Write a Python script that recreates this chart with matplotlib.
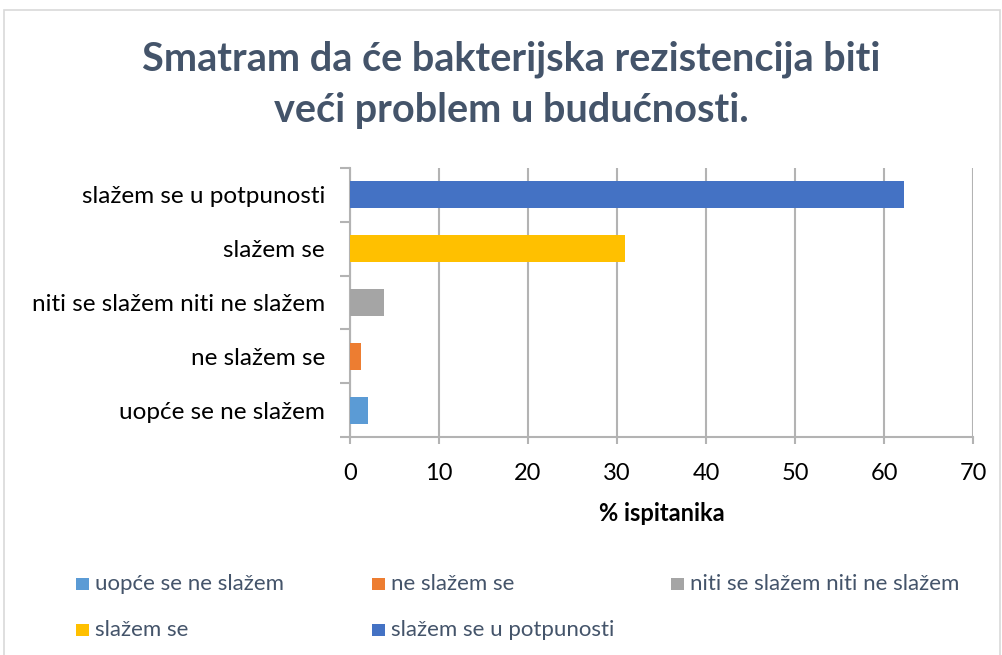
import matplotlib
matplotlib.use("Agg")
import matplotlib.pyplot as plt
from matplotlib.patches import Rectangle

categories = ["uopće se ne slažem", "ne slažem se", "niti se slažem niti ne slažem",
              "slažem se", "slažem se u potpunosti"]
values = [2.0, 1.2, 3.8, 30.9, 62.3]
colors = ["#5B9BD5", "#ED7D31", "#A5A5A5", "#FFC000", "#4472C4"]
xticks = [0, 10, 20, 30, 40, 50, 60, 70]
title = "Smatram da će bakterijska rezistencija biti\nveći problem u budućnosti."
xlabel = "% ispitanika"

plt.rcParams['font.family'] = ['Lato', 'DejaVu Sans']

W, H = 1002, 655
fig = plt.figure(figsize=(W / 100, H / 100), dpi=100)
fig.patches.append(Rectangle((4 / W, -0.01), 996 / W, 1 - 10 / H + 0.01, transform=fig.transFigure,
                             fill=False, edgecolor="#D9D9D9", linewidth=1.2))

ax = fig.add_axes([350 / W, 1 - 437 / H, (973 - 350) / W, (437 - 168) / H])
pos = list(range(len(categories)))
ax.barh(pos, values, height=0.5, color=colors, zorder=3)
ax.set_xlim(0, 70)
ax.set_ylim(-0.5, 4.5)
ax.set_xticks(xticks)
ax.set_xticklabels([str(t) for t in xticks], fontsize=17)
ax.tick_params(axis='x', length=5, width=1.5, color="#B3B3B3", pad=14)
ax.grid(axis='x', color="#B3B3B3", linewidth=1.5, zorder=0)
ax.set_yticks([p - 0.5 for p in pos] + [4.5])
ax.set_yticklabels([])
ax.tick_params(axis='y', which='major', length=7, width=1.5, color="#B3B3B3")
ax.set_yticks(pos, minor=True)
ax.set_yticklabels(categories, minor=True, fontsize=17.5)
ax.tick_params(axis='y', which='minor', length=0, pad=18)
for s in ['top', 'right']:
    ax.spines[s].set_visible(False)
for s in ['left', 'bottom']:
    ax.spines[s].set_color("#B3B3B3")
    ax.spines[s].set_linewidth(1.5)
ax.set_xlabel(xlabel, fontsize=17, fontweight='bold', labelpad=13)

fig.text(511 / W, 1 - 85 / H, title, ha='center', va='center', fontsize=28.5,
         fontweight='bold', color="#44546A", linespacing=1.45)

# legend, row-major layout like the reference
leg_x = [76, 372, 671, 76, 372]
leg_base = [590, 590, 590, 636, 636]
for i, (c, lab) in enumerate(zip(colors, categories)):
    fig.patches.append(Rectangle((leg_x[i] / W, 1 - leg_base[i] / H), 13 / W, 12 / H,
                                 transform=fig.transFigure, facecolor=c, edgecolor='none'))
    fig.text((leg_x[i] + 19) / W, 1 - leg_base[i] / H, lab, ha='left', va='baseline',
             fontsize=16, color="#44546A")

fig.savefig("out.png", dpi=100)
